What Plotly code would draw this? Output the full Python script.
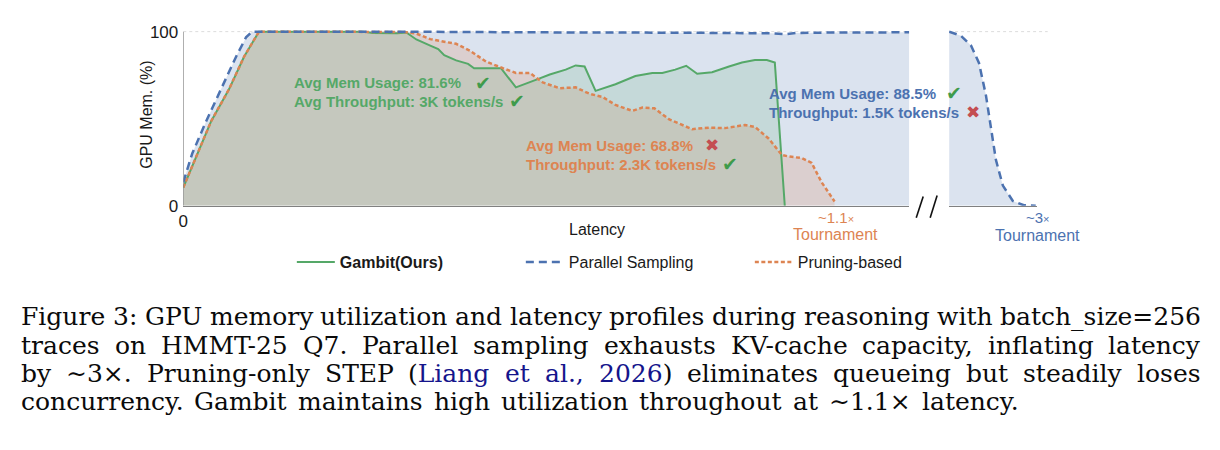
import glob
import plotly.graph_objects as go

PAGE_W, PAGE_H = 1220, 450
BODY = 8  # default page margin around the plot div
W, H = PAGE_W - 2 * BODY, PAGE_H - 2 * BODY


def px(x):
    return (x - BODY) / W


def py(y):
    return 1 - (y - BODY) / H


# ---------------- data (latency in s, GPU memory in %) ----------------
gambit_latency = [0, 14, 28, 46, 61, 76, 181, 190, 215, 224, 234, 248, 256, 262, 274, 286, 292, 319,
                  334, 354, 368, 384, 394, 403, 414, 434, 454, 471, 481, 494, 505, 516, 531, 548,
                  561, 574, 586, 594, 604]
gambit_mem = [10.5, 30, 48.6, 67, 85.6, 100, 100, 99.2, 99, 99.5, 95.5, 92, 90, 86.5, 83.5, 81.5, 79, 79,
              68, 72.3, 75.4, 78.2, 80.6, 80, 66, 69.8, 74.5, 76.3, 76.3, 78.2, 80.4, 75.8, 76.7, 80,
              82.3, 83.7, 83.7, 82.3, 0]

pruning_latency = [0, 14, 28, 46, 61, 76, 221, 234, 248, 264, 274, 288, 304, 321, 334, 348, 361, 378,
                   394, 408, 421, 434, 451, 461, 473, 488, 511, 528, 544, 564, 574, 588, 601, 608,
                   621, 631, 641, 654]
pruning_mem = [10.5, 30, 48.6, 67, 85.6, 100, 99.8, 98.9, 95.7, 94, 93, 89, 82.8, 79, 76.3, 76.3, 70.8,
               67.5, 68, 64.3, 62.5, 57.9, 54.5, 56.4, 56, 49.6, 44, 44.9, 44.6, 46.4, 45.3, 38.5,
               29.2, 28.3, 27.4, 24.6, 13.5, 2.5]

parallel_latency = [0, 9, 23, 38, 53, 63, 69, 200, 300, 400, 500, 560, 590, 604, 615, 650, 729,
                    1740, 1752, 1762, 1770, 1777, 1782, 1787, 1794, 1804, 1815, 1827]
parallel_mem = [13.5, 30, 48.6, 67, 85.6, 96.7, 100, 100, 99.6, 99.5, 99.4, 99.3, 99, 98.5, 99.2, 99.5,
                99.6, 100, 97.6, 92, 82, 63.4, 45, 26.4, 11.6, 2.8, 0.3, 0]

y_tick_vals = [0, 100]
y_tick_text = ["0", "100"]
x_tick_vals = [0]
x_tick_text = ["0"]

series_names = ["<b>Gambit(Ours)</b>", "Parallel Sampling", "Pruning-based"]

# broken x axis
MAIN_RANGE = [0, 729]
TAIL_RANGE = [1740, 1828]

par_main_t = [t for t in parallel_latency if t <= MAIN_RANGE[1]]
par_main_m = [m for t, m in zip(parallel_latency, parallel_mem) if t <= MAIN_RANGE[1]]
par_tail_t = [t for t in parallel_latency if t >= TAIL_RANGE[0]]
par_tail_m = [m for t, m in zip(parallel_latency, parallel_mem) if t >= TAIL_RANGE[0]]

BLUE = "#4C72B0"
ORANGE = "#DD8452"
GREEN = "#55A868"
RED = "#C44E52"
CHECK = "#3f9b4b"
SANS = "Liberation Sans"
SERIF = "DejaVu Serif"

fig = go.Figure()


def fill(x, y, color, xaxis="x"):
    fig.add_trace(go.Scatter(x=x, y=y, mode="lines", line=dict(width=0), fill="tozeroy",
                             fillcolor=color, showlegend=False, hoverinfo="skip", xaxis=xaxis, yaxis="y"))


fill(par_main_t, par_main_m, "rgba(76,114,176,0.20)")
fill(par_tail_t, par_tail_m, "rgba(76,114,176,0.20)", "x2")
fill(pruning_latency, pruning_mem, "rgba(221,132,82,0.20)")
fill(gambit_latency, gambit_mem, "rgba(85,168,104,0.16)")

fig.add_trace(go.Scatter(x=gambit_latency, y=gambit_mem, mode="lines", name=series_names[0],
                         line=dict(color=GREEN, width=2), legendrank=1))
fig.add_trace(go.Scatter(x=pruning_latency, y=pruning_mem, mode="lines", name=series_names[2],
                         line=dict(color=ORANGE, width=2.5, dash="4px,2.5px"), legendrank=3))
fig.add_trace(go.Scatter(x=par_main_t, y=par_main_m, mode="lines", name=series_names[1],
                         line=dict(color=BLUE, width=2.5, dash="8px,5px"), legendrank=2))
fig.add_trace(go.Scatter(x=par_tail_t, y=par_tail_m, mode="lines", showlegend=False,
                         line=dict(color=BLUE, width=2.5, dash="8px,5px"), xaxis="x2", yaxis="y"))

AXC = "#808080"
y0px, per100 = 207.7, 180.4
ytop = 102
fig.update_layout(
    width=W, height=H, autosize=False,
    margin=dict(l=0, r=0, t=0, b=0),
    paper_bgcolor="white", plot_bgcolor="rgba(0,0,0,0)",
    font=dict(family=SANS, color="#1a1a1a"),
    xaxis=dict(domain=[px(179), px(908)], range=MAIN_RANGE, showgrid=False, zeroline=False,
               showline=True, linecolor=AXC, linewidth=1.2, tickvals=x_tick_vals, ticktext=x_tick_text,
               ticks="", tickfont=dict(size=17, color="#1a1a1a"), anchor="y", ticklabelstandoff=0),
    xaxis2=dict(domain=[px(948), px(1036)], range=TAIL_RANGE, showgrid=False, zeroline=False,
                showline=True, linecolor=AXC, linewidth=1.2, showticklabels=False, anchor="y"),
    yaxis=dict(domain=[py(y0px), py(y0px - per100 / 100 * ytop)], range=[0, ytop], showgrid=False,
               zeroline=False, showline=False, tickvals=y_tick_vals, ticktext=y_tick_text, ticks="",
               tickfont=dict(size=17, color="#1a1a1a"), ticklabelstandoff=4),
    legend=dict(orientation="h", x=px(288), xanchor="left", y=py(266), yanchor="middle",
                font=dict(size=16, family=SANS, color="#1a1a1a"), itemwidth=38, entrywidth=176,
                entrywidthmode="pixels", bgcolor="rgba(0,0,0,0)", traceorder="normal"),
)

shapes = [
    dict(type="line", xref="x", yref="y", x0=0, x1=0, y0=0, y1=100, line=dict(color=AXC, width=1.2)),
    dict(type="line", xref="x", yref="y", x0=MAIN_RANGE[0], x1=MAIN_RANGE[1], y0=100, y1=100,
         line=dict(color="#dcdcdc", width=1, dash="dot"), layer="below"),
    dict(type="line", xref="paper", yref="y", x0=px(948), x1=px(1047), y0=100, y1=100,
         line=dict(color="#dcdcdc", width=1, dash="dot"), layer="below"),
    dict(type="line", xref="paper", yref="paper", x0=px(915), y0=py(220), x1=px(922), y1=py(198),
         line=dict(color="#111", width=1.6)),
    dict(type="line", xref="paper", yref="paper", x0=px(929), y0=py(220), x1=px(936), y1=py(197),
         line=dict(color="#111", width=1.6)),
]
fig.update_layout(shapes=shapes)

anns = []


def ann(text, x, y, size, color, xanchor="left", family=SANS, angle=0):
    anns.append(dict(text=text, x=px(x), y=py(y), xref="paper", yref="paper", showarrow=False,
                     xanchor=xanchor, yanchor="middle", borderpad=0, borderwidth=0, textangle=angle,
                     font=dict(size=size, color=color, family=family)))


ann("GPU Mem. (%)", 142, 113, 16, "#1a1a1a", "center", angle=-90)
ann("Latency", 594.5, 232, 16, "#1a1a1a", "center")

ann("<b>Avg Mem Usage: 81.6%</b>", 290, 80, 15, GREEN)
ann("✔", 480, 80, 19, CHECK, "center", "DejaVu Sans")
ann("<b>Avg Throughput: 3K tokens/s</b>", 290, 99.3, 15, GREEN)
ann("✔", 514.5, 99.3, 19, CHECK, "center", "DejaVu Sans")

ann("<b>Avg Mem Usage: 68.8%</b>", 523.3, 145.5, 15, ORANGE)
ann("✖", 709.5, 145, 17, RED, "center", "DejaVu Sans")
ann("<b>Throughput: 2.3K tokens/s</b>", 523.3, 164.5, 15, ORANGE)
ann("✔", 727.5, 164, 19, CHECK, "center", "DejaVu Sans")

ann("<b>Avg Mem Usage: 88.5%</b>", 766.7, 91.7, 15, BLUE)
ann("✔", 952.5, 91, 19, CHECK, "center", "DejaVu Sans")
ann("<b>Throughput: 1.5K tokens/s</b>", 766.7, 111, 15, BLUE)
ann("✖", 972.5, 111, 17, RED, "center", "DejaVu Sans")

ann("~1.1<span style='font-size:11px'>×</span>", 834, 220, 15, ORANGE, "center")
ann("Tournament", 834, 237.5, 16, ORANGE, "center")
ann("~3<span style='font-size:11px'>×</span>", 1037, 220, 15, BLUE, "center")
ann("Tournament", 1037, 238, 16, BLUE, "center")

# ---------------- caption (justified, word by word) ----------------
CAPTION_LINES = [
    "Figure 3: GPU memory utilization and latency profiles during reasoning with batch_size=256",
    "traces on HMMT-25 Q7. Parallel sampling exhausts KV-cache capacity, inflating latency",
    "by ∼3×. Pruning-only STEP (Liang et al., 2026) eliminates queueing but steadily loses",
    "concurrency. Gambit maintains high utilization throughout at ∼1.1× latency.",
]
CITE = "Liang et al., 2026"
CITE_COLOR = "#15158c"
LINE_RIGHT = [1200, 1200, 1200, 1017]
LINE_BASE = [331.3, 361.3, 390.7, 420]
CAP_LEFT = 16
CAP_SIZE = 25
CAP_DESC = 0.236

# approximate DejaVu Serif advance widths (1/1000 em), used if the font file cannot be measured
TW = {' ': 318, '(': 390, ')': 390, ',': 318, '-': 338, '.': 318, ':': 337, '=': 838, '_': 500,
      '×': 838, '∼': 838,
      'A': 722, 'B': 735, 'C': 765, 'D': 802, 'E': 730, 'F': 694, 'G': 799, 'H': 872, 'I': 395, 'J': 401,
      'K': 747, 'L': 664, 'M': 1024, 'N': 875, 'O': 820, 'P': 673, 'Q': 820, 'R': 753, 'S': 685, 'T': 667,
      'U': 843, 'V': 722, 'W': 1028, 'X': 712, 'Y': 660, 'Z': 695,
      'a': 596, 'b': 640, 'c': 560, 'd': 640, 'e': 592, 'f': 370, 'g': 640, 'h': 644, 'i': 320, 'j': 310,
      'k': 606, 'l': 320, 'm': 948, 'n': 644, 'o': 602, 'p': 640, 'q': 640, 'r': 478, 's': 513, 't': 402,
      'u': 644, 'v': 565, 'w': 856, 'x': 564, 'y': 565, 'z': 527}
for d in "0123456789":
    TW[d] = 636

_measure = None
try:
    from PIL import ImageFont
    paths = glob.glob("/usr/share/fonts/**/DejaVuSerif.ttf", recursive=True)
    if paths:
        _font = ImageFont.truetype(paths[0], 100)
        _measure = lambda s: _font.getlength(s) * CAP_SIZE / 100
except Exception:
    _measure = None


def text_w(s):
    if _measure is not None:
        return _measure(s)
    return sum(TW.get(c, 600) for c in s) * CAP_SIZE / 1000


for li, line in enumerate(CAPTION_LINES):
    cs = line.find(CITE)
    cite_idx = set(range(cs, cs + len(CITE))) if cs >= 0 else set()
    words = []
    pos = 0
    for w in line.split(" "):
        idx = line.index(w, pos)
        pos = idx + len(w)
        html, cur, buf = "", None, ""
        for k, ch in enumerate(w):
            flag = (idx + k) in cite_idx
            if flag != cur and buf:
                html += f"<span style='color:{CITE_COLOR}'>{buf}</span>" if cur else buf
                buf = ""
            cur = flag
            buf += ch
        html += f"<span style='color:{CITE_COLOR}'>{buf}</span>" if cur else buf
        words.append((w, html))
    widths = [text_w(w) for w, _ in words]
    gap = (LINE_RIGHT[li] - CAP_LEFT - sum(widths)) / (len(words) - 1)
    x = CAP_LEFT
    base = LINE_BASE[li]
    for (w, html), wd in zip(words, widths):
        anns.append(dict(text=html, x=px(x), y=py(base + CAP_DESC * CAP_SIZE), xref="paper", yref="paper",
                         showarrow=False, xanchor="left", yanchor="bottom", borderpad=0, borderwidth=0,
                         font=dict(size=CAP_SIZE, color="#0a0a0a", family=SERIF)))
        x += wd + gap

fig.update_layout(annotations=anns)
fig.write_html("out.html")
